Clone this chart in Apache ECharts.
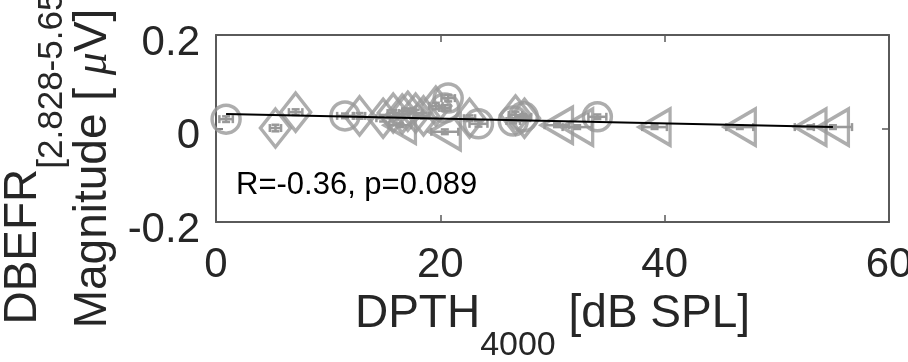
<!DOCTYPE html>
<html><head><meta charset="utf-8">
<script src="https://cdn.jsdelivr.net/npm/echarts@6/dist/echarts.min.js"></script>
<style>html,body{margin:0;padding:0;background:#fff}#c{width:908px;height:362px}</style>
</head><body><div id="c"></div>
<script>
// ---- data ----
const xTicks = [0, 20, 40, 60];
const yTicks = [-0.2, 0, 0.2];
// circles: x, y, x-error, y-error
const circleX    = [0.9, 11.5, 20.7, 20.4, 23.4, 26.5, 27.4, 34.0];
const circleY    = [0.020, 0.027, 0.065, 0.044, 0.010, 0.016, 0.025, 0.025];
const circleXErr = [0.6, 0.7, 0.6, 0.5, 0.8, 0.6, 0.7, 0.8];
const circleYErr = [0.006, 0.005, 0.007, 0.006, 0.006, 0.005, 0.006, 0.005];
// diamonds
const diamondX    = [5.3, 7.1, 12.8, 14.9, 15.8, 16.6, 17.1, 17.8, 18.5, 19.6, 22.6, 26.7, 27.5];
const diamondY    = [0.001, 0.035, 0.027, 0.022, 0.033, 0.031, 0.037, 0.033, 0.027, 0.048, 0.022, 0.029, 0.022];
const diamondXErr = [0.5, 0.6, 0.5, 0.6, 0.5, 0.6, 0.5, 0.6, 0.5, 0.6, 0.5, 0.6, 0.5];
const diamondYErr = [0.007, 0.006, 0.006, 0.007, 0.006, 0.007, 0.006, 0.007, 0.006, 0.007, 0.006, 0.007, 0.006];
// left-pointing triangles
const triX    = [16.4, 20.4, 30.4, 32.2, 39.1, 46.7, 53.0, 55.0];
const triY    = [0.007, -0.007, 0.007, 0.003, 0.003, 0.003, 0.003, 0.003];
const triXErr = [1.0, 1.2, 1.1, 1.3, 1.1, 1.2, 1.4, 1.7];
const triYErr = [0.004, 0.005, 0.004, 0.004, 0.004, 0.004, 0.004, 0.004];
// regression line end points
const fitX = [0.9, 55.0];
const fitY = [0.031, 0.003];
const statsText = 'R=-0.36, p=0.089';

// ---- build ----
const FONT = 'Liberation Sans, Arial, Helvetica, sans-serif';
const GRAY = '#999999';
const AX = '#5a5a5a';
const TXT = '#262626';
function pts(xs, ys, xe, ye) { return xs.map((x, i) => [x, ys[i], xe[i], ye[i]]); }
const circles = pts(circleX, circleY, circleXErr, circleYErr);
const diamonds = pts(diamondX, diamondY, diamondXErr, diamondYErr);
const tris = pts(triX, triY, triXErr, triYErr);
const allPts = circles.concat(diamonds, tris);

function errRender(params, api) {
  const x = api.value(0), y = api.value(1), xe = api.value(2), ye = api.value(3);
  const l = api.coord([x - xe, y]), r = api.coord([x + xe, y]);
  const t = api.coord([x, y + ye]), b = api.coord([x, y - ye]);
  const cap = 4;
  const st = { stroke: GRAY, lineWidth: 2.5, fill: null };
  const line = (x1, y1, x2, y2) => ({ type: 'line', shape: { x1, y1, x2, y2 }, style: st });
  return { type: 'group', children: [
    line(l[0], l[1], r[0], r[1]),
    line(l[0], l[1] - cap, l[0], l[1] + cap),
    line(r[0], r[1] - cap, r[0], r[1] + cap),
    line(t[0], t[1], b[0], b[1]),
    line(t[0] - cap, t[1], t[0] + cap, t[1]),
    line(b[0] - cap, b[1], b[0] + cap, b[1])
  ]};
}

const hollow = { color: 'rgba(0,0,0,0)', borderColor: GRAY, borderWidth: 3.5 };
const tickStyle = { color: AX, width: 1.5 };
const lineStyleAx = { color: AX, width: 2 };

const option = {
  animation: false,
  backgroundColor: '#ffffff',
  grid: { left: 216, right: 19, top: 35, bottom: 140, containLabel: false, outerBoundsMode: 'none' },
  xAxis: [
    { type: 'value', min: xTicks[0], max: xTicks[xTicks.length - 1], interval: 20, position: 'bottom',
      axisLine: { show: true, onZero: false, lineStyle: lineStyleAx },
      axisTick: { show: true, inside: true, length: 7, lineStyle: tickStyle },
      axisLabel: { fontSize: 42, color: TXT, fontFamily: FONT, margin: 22 },
      splitLine: { show: false },
      name: '{a|DPTH}{s|4000}{a| [dB SPL]}', nameLocation: 'middle', nameGap: 62,
      nameTextStyle: { color: TXT, fontFamily: FONT,
        rich: { a: { fontSize: 46, lineHeight: 46, verticalAlign: 'top', fontFamily: FONT, color: TXT },
                s: { fontSize: 34, lineHeight: 72, verticalAlign: 'bottom', padding: [38, 0, 0, 0], fontFamily: FONT, color: TXT } } } },
    { type: 'value', min: xTicks[0], max: xTicks[xTicks.length - 1], interval: 20, position: 'top',
      axisLine: { show: true, onZero: false, lineStyle: lineStyleAx },
      axisTick: { show: true, inside: true, length: 7, lineStyle: tickStyle },
      axisLabel: { show: false }, splitLine: { show: false } }
  ],
  yAxis: [
    { type: 'value', min: yTicks[0], max: yTicks[yTicks.length - 1], interval: 0.2, position: 'left',
      axisLine: { show: true, onZero: false, lineStyle: lineStyleAx },
      axisTick: { show: true, inside: true, length: 7, lineStyle: tickStyle },
      axisLabel: { color: TXT, fontFamily: FONT, margin: 16,
        formatter: v => '{v|' + (Math.abs(v) < 1e-9 ? '0' : String(Math.round(v * 10) / 10)) + '}',
        rich: { v: { fontSize: 42, lineHeight: 58, verticalAlign: 'bottom', padding: [16, 0, 0, 0], fontFamily: FONT, color: TXT } } },
      splitLine: { show: false },
      name: '{a|Magnitude [ }{m|μ}{a|V]}', nameLocation: 'middle', nameRotate: 90, nameGap: 98,
      nameTextStyle: { color: TXT, fontFamily: FONT, padding: [0, 80, 0, 0],
        rich: { a: { fontSize: 46, fontFamily: FONT, color: TXT },
                m: { fontSize: 46, fontStyle: 'italic', fontFamily: 'Liberation Serif, serif', color: TXT } } } },
    { type: 'value', min: yTicks[0], max: yTicks[yTicks.length - 1], interval: 0.2, position: 'right',
      axisLine: { show: true, onZero: false, lineStyle: lineStyleAx },
      axisTick: { show: true, inside: true, length: 7, lineStyle: tickStyle },
      axisLabel: { show: false }, splitLine: { show: false } },
    { type: 'value', min: yTicks[0], max: yTicks[yTicks.length - 1], interval: 0.2, position: 'left',
      axisLine: { show: false }, axisTick: { show: false }, axisLabel: { show: false }, splitLine: { show: false },
      name: '{a|DBEFR}{s|[2.828-5.657]}', nameLocation: 'middle', nameRotate: 90, nameGap: 146,
      nameTextStyle: { color: TXT, fontFamily: FONT, padding: [0, 30, 0, 0],
        rich: { a: { fontSize: 46, lineHeight: 46, verticalAlign: 'top', fontFamily: FONT, color: TXT },
                s: { fontSize: 35, lineHeight: 70, verticalAlign: 'bottom', padding: [33, 0, 0, 0], fontFamily: FONT, color: TXT } } } }
  ],
  graphic: [
    { type: 'text', left: 236, top: 170, z: 10,
      style: { text: statsText, fontSize: 31, fontFamily: FONT, fill: '#000000' } }
  ],
  series: [
    { type: 'custom', name: 'err', renderItem: errRender, data: allPts, z: 2, clip: false,
      encode: { x: 0, y: 1 } },
    { type: 'scatter', name: 'circles', data: circles, symbol: 'circle', symbolSize: 28, itemStyle: hollow, z: 3 },
    { type: 'scatter', name: 'diamonds', data: diamonds, symbol: 'diamond', symbolSize: [30, 38], itemStyle: hollow, z: 3 },
    { type: 'scatter', name: 'tris', data: tris, symbol: 'triangle', symbolSize: [36, 31], symbolRotate: 90, itemStyle: hollow, z: 3 },
    { type: 'line', name: 'fit', data: fitX.map((x, i) => [x, fitY[i]]), symbol: 'none',
      lineStyle: { color: '#000000', width: 2 }, z: 5 }
  ]
};
echarts.init(document.getElementById('c'), null, { renderer: 'canvas' }).setOption(option);
</script></body></html>
